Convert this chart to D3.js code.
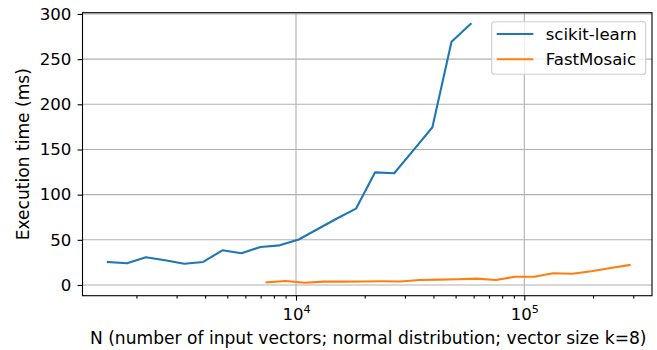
<!DOCTYPE html>
<html><head><meta charset="utf-8">
<script src="https://cdn.jsdelivr.net/npm/d3@7"></script>
<style>body{margin:0;background:#fff} text{font-family:"DejaVu Sans",sans-serif;fill:#000}</style>
</head><body><svg id="c" width="657" height="350"></svg>
<script>
// ---- data ----
const skN = [1500, 1820, 2200, 2670, 3240, 3920, 4760, 5770, 6990, 8480, 10280, 12460, 15110, 18310, 22210, 26920, 32640, 39580, 47990, 58180];
const skTime = [25.5, 24.0, 30.7, 27.3, 23.6, 25.5, 38.4, 35.1, 42.1, 43.9, 50.4, 62.0, 73.6, 84.5, 124.7, 123.7, 149.0, 174.6, 269.3, 289.0];
const fmN = [7440, 9020, 10940, 13270, 16080, 19500, 23640, 28660, 34750, 42130, 51090, 61940, 75090, 91060, 110390, 133850, 162290, 196760, 238560, 289200];
const fmTime = [3.0, 4.4, 2.5, 3.7, 3.7, 3.9, 4.1, 3.9, 5.5, 5.9, 6.3, 7.0, 5.5, 9.2, 9.2, 13.0, 12.5, 15.2, 18.8, 22.1];
const seriesNames = ["scikit-learn", "FastMosaic"];
const seriesColors = ["#1f77b4", "#ff7f0e"];
const yTicks = [0, 50, 100, 150, 200, 250, 300];
const xTicks = [1e4, 1e5];
const xTickExp = ["4", "5"];
const xMinor = [2000, 3000, 4000, 5000, 6000, 7000, 8000, 9000, 20000, 30000, 40000, 50000, 60000, 70000, 80000, 90000, 200000, 300000];
const xLabel = "N (number of input vectors; normal distribution; vector size k=8)";
const yLabel = "Execution time (ms)";

// ---- layout ----
const L = 82.5, R = 652, T = 12.7, B = 295.7;
const FS = 16.6, LFS = 17.1;
const svg = d3.select("#c");
const x = d3.scaleLog().domain([1161, 362500]).range([L, R]);
const y = d3.scaleLinear().domain([-11.85, 301.4]).range([B, T]);

// grid
const grid = svg.append("g").attr("stroke", "#b0b0b0").attr("stroke-width", 1.1);
grid.selectAll("line.gy").data(yTicks).join("line")
  .attr("x1", L).attr("x2", R).attr("y1", d => y(d)).attr("y2", d => y(d));
grid.selectAll("line.gx").data(xTicks).join("line")
  .attr("y1", T).attr("y2", B).attr("x1", d => x(d)).attr("x2", d => x(d));

// lines
svg.append("defs").append("clipPath").attr("id", "clip")
  .append("rect").attr("x", L).attr("y", T).attr("width", R - L).attr("height", B - T);
const line = d3.line().x(d => x(d[0])).y(d => y(d[1]));
const series = [d3.zip(skN, skTime), d3.zip(fmN, fmTime)];
svg.append("g").attr("clip-path", "url(#clip)").selectAll("path").data(series).join("path")
  .attr("d", line).attr("fill", "none")
  .attr("stroke", (d, i) => seriesColors[i]).attr("stroke-width", 2.1)
  .attr("stroke-linejoin", "round").attr("stroke-linecap", "square");

// axes
const gy = svg.append("g").attr("transform", `translate(${L},0)`)
  .call(d3.axisLeft(y).tickValues(yTicks).tickSize(4.9).tickPadding(6.3).tickFormat(d3.format("d")));
const gxm = svg.append("g").attr("transform", `translate(0,${B})`)
  .call(d3.axisBottom(x).tickValues(xMinor).tickSize(2.8).tickFormat(() => ""));
const gx = svg.append("g").attr("transform", `translate(0,${B})`)
  .call(d3.axisBottom(x).tickValues(xTicks).tickSize(4.9).tickFormat(() => ""));
[gy, gxm, gx].forEach(g => {
  g.select(".domain").remove();
  g.selectAll(".tick line").attr("stroke", "#000").attr("stroke-width", 1.1);
  g.selectAll("text").style("font-family", "DejaVu Sans").style("font-size", FS + "px").attr("fill", "#000");
});
gx.selectAll(".tick text").each(function (d, i) {
  const t = d3.select(this).attr("y", 320.5 - B).attr("dy", null).attr("text-anchor", "middle");
  t.text(null);
  t.append("tspan").text("10");
  t.append("tspan").attr("dy", -7).style("font-size", "11.2px").text(xTickExp[i]);
});

// frame
svg.append("rect").attr("x", L).attr("y", T).attr("width", R - L).attr("height", B - T)
  .attr("fill", "none").attr("stroke", "#000").attr("stroke-width", 1.1);

// labels
svg.append("text").attr("x", (L + R) / 2 + 1).attr("y", 344).attr("text-anchor", "middle")
  .style("font-size", LFS + "px").text(xLabel);
svg.append("text").attr("transform", `translate(29,${(T + B) / 2}) rotate(-90)`)
  .attr("text-anchor", "middle").style("font-size", LFS + "px").text(yLabel);

// legend
const lg = svg.append("g");
lg.append("rect").attr("x", 491.7).attr("y", 21.7).attr("width", 154).attr("height", 52.6).attr("rx", 2.8)
  .attr("fill", "#fff").attr("fill-opacity", 0.8).attr("stroke", "#cccccc").attr("stroke-width", 1.1);
seriesNames.forEach((n, i) => {
  const yy = 34 + i * 25.3;
  lg.append("line").attr("x1", 496.7).attr("x2", 533.3).attr("y1", yy).attr("y2", yy)
    .attr("stroke", seriesColors[i]).attr("stroke-width", 2.1);
  lg.append("text").attr("x", 545.7).attr("y", yy + 6).style("font-size", FS + "px").text(n);
});
</script></body></html>
